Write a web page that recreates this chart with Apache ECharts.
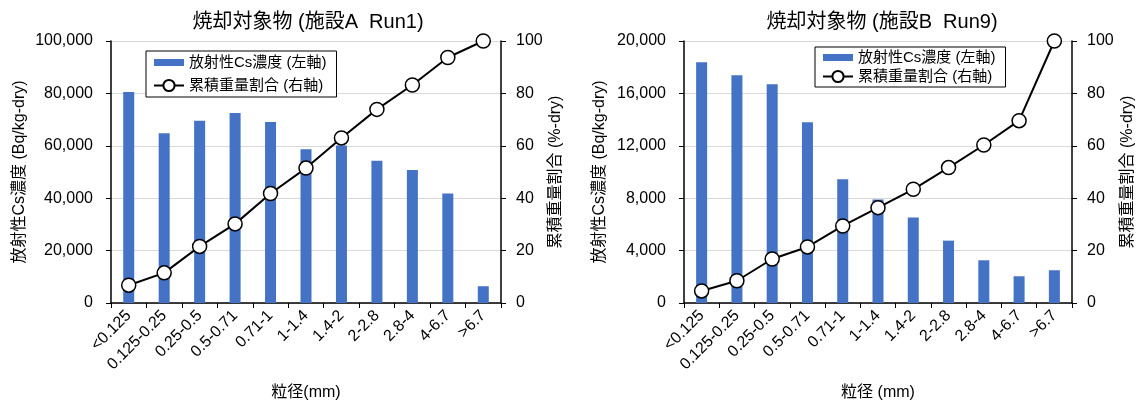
<!DOCTYPE html>
<html><head><meta charset="utf-8">
<script src="https://cdn.jsdelivr.net/npm/echarts@6/dist/echarts.min.js"></script>
<style>html,body{margin:0;padding:0;background:#fff}#c{width:1137px;height:403px}</style>
</head><body><div id="c"></div>
<script>
const categories = ['<0.125','0.125-0.25','0.25-0.5','0.5-0.71','0.71-1','1-1.4','1.4-2','2-2.8','2.8-4','4-6.7','>6.7'];
const csA = [80500, 64800, 69600, 72500, 69100, 58700, 60100, 54300, 50800, 41800, 6400];
const cumA = [6.8, 11.5, 21.6, 30.2, 41.8, 51.5, 63.0, 73.9, 83.2, 93.7, 100];
const csB = [18370, 17380, 16690, 13790, 9440, 7910, 6520, 4760, 3260, 2040, 2500];
const cumB = [4.6, 8.5, 16.8, 21.4, 29.4, 36.4, 43.4, 51.7, 60.3, 69.6, 100];
const titles = ['焼却対象物 (施設A  Run1)', '焼却対象物 (施設B  Run9)'];
const xNames = ['粒径(mm)', '粒径 (mm)'];
const barName = '放射性Cs濃度 (左軸)';
const lineName = '累積重量割合 (右軸)';
const leftAxisName = '放射性Cs濃度 (Bq/kg-dry)';
const rightAxisName = '累積重量割合 (%-dry)';

const FONT = '"Liberation Sans", Arial, "Noto Sans CJK JP", sans-serif';
const chart = echarts.init(document.getElementById('c'));
const fmt = v => v.toLocaleString('en-US');

function xAxis(gi, name) {
  return {
    type: 'category', gridIndex: gi, data: categories,
    name: name, nameLocation: 'middle', nameGap: 82,
    nameTextStyle: {fontSize: 16, color: '#000', fontFamily: FONT},
    axisLine: {lineStyle: {color: '#000', width: 1.5}},
    axisTick: {show: true, length: 5, lineStyle: {color: '#000'}},
    axisLabel: {rotate: 45, fontSize: 16, color: '#000', fontFamily: FONT, margin: 10, interval: 0}
  };
}
function yLeft(gi, max, interval, gap) {
  return {
    type: 'value', gridIndex: gi, min: 0, max: max, interval: interval, position: 'left',
    name: leftAxisName, nameLocation: 'middle', nameGap: gap, nameRotate: 90,
    nameTextStyle: {fontSize: 16, color: '#000', fontFamily: FONT},
    axisLine: {show: true, lineStyle: {color: '#000', width: 1.5}},
    axisTick: {show: true, length: 5, lineStyle: {color: '#000'}},
    axisLabel: {fontSize: 16, color: '#000', fontFamily: FONT, margin: 18, formatter: fmt},
    splitLine: {show: true, lineStyle: {color: '#d9d9d9', width: 1}}
  };
}
function yRight(gi, gap) {
  return {
    type: 'value', gridIndex: gi, min: 0, max: 100, interval: 20, position: 'right',
    name: rightAxisName, nameLocation: 'middle', nameGap: gap, nameRotate: 90,
    nameTextStyle: {fontSize: 16, color: '#000', fontFamily: FONT},
    axisLine: {show: true, lineStyle: {color: '#000', width: 1.5}},
    axisTick: {show: true, length: 5, lineStyle: {color: '#000'}},
    axisLabel: {fontSize: 16, color: '#000', fontFamily: FONT, margin: 15},
    splitLine: {show: false}
  };
}
function barSeries(xi, yi, data) {
  return {name: barName, type: 'bar', xAxisIndex: xi, yAxisIndex: yi, data: data,
    barWidth: 11, itemStyle: {color: '#4472C4'}, z: 2};
}
function lineSeries(xi, yi, data) {
  return {name: lineName, type: 'line', xAxisIndex: xi, yAxisIndex: yi, data: data,
    symbol: 'circle', symbolSize: 14,
    lineStyle: {color: '#000', width: 2},
    itemStyle: {color: '#fff', borderColor: '#000', borderWidth: 1.5}, z: 3};
}
function legend(left, top, gap, pad) {
  return {
    orient: 'vertical', left: left, top: top, itemGap: gap, padding: pad,
    backgroundColor: '#fff', borderColor: '#000', borderWidth: 1,
    itemWidth: 30, itemHeight: 14, selectedMode: false,
    textStyle: {fontSize: 15, color: '#000', fontFamily: FONT},
    data: [
      {name: barName, icon: 'path://M0,0 L30,0 L30,7 L0,7 Z'},
      {name: lineName}
    ]
  };
}

chart.setOption({
  animation: false,
  textStyle: {fontFamily: FONT},
  title: [
    {text: titles[0], left: 308, top: 12, textAlign: 'center', padding: 0,
      textStyle: {fontSize: 20, fontWeight: 'normal', color: '#000', fontFamily: FONT}},
    {text: titles[1], left: 882, top: 12, textAlign: 'center', padding: 0,
      textStyle: {fontSize: 20, fontWeight: 'normal', color: '#000', fontFamily: FONT}}
  ],
  legend: [legend(146, 51, 8, [4, 10, 4, 7]), legend(815, 47, 4, [3, 10, 3, 7])],
  grid: [
    {left: 111, right: 636, top: 41, bottom: 100, containLabel: false, outerBoundsMode: 'none'},
    {left: 684, right: 65, top: 41, bottom: 100, containLabel: false, outerBoundsMode: 'none'}
  ],
  xAxis: [xAxis(0, xNames[0]), xAxis(1, xNames[1])],
  yAxis: [yLeft(0, 100000, 20000, 83), yRight(0, 47), yLeft(1, 20000, 4000, 76), yRight(1, 48)],
  series: [
    barSeries(0, 0, csA), lineSeries(0, 1, cumA),
    barSeries(1, 2, csB), lineSeries(1, 3, cumB)
  ]
});
</script></body></html>
